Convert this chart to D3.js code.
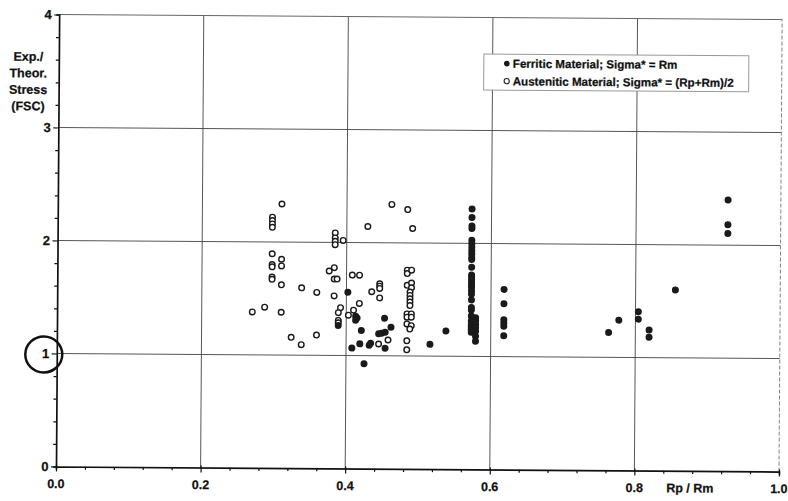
<!DOCTYPE html>
<html>
<head>
<meta charset="utf-8">
<script src="https://cdn.jsdelivr.net/npm/d3@7/dist/d3.min.js"></script>
<style>
  html, body { margin: 0; padding: 0; background: #fff; }
  svg { display: block; }
  text { font-family: "Liberation Sans", Arial, sans-serif; font-weight: bold; fill: #111; stroke: #111; stroke-width: 0.25px; }
</style>
</head>
<body>
<svg id="chart" width="788" height="501"></svg>
<script>
// ---- data ----
const xTicks = [0.0, 0.2, 0.4, 0.6, 0.8, 1.0];
const xTickLabels = ["0.0", "0.2", "0.4", "0.6", "0.8", "1.0"];
const yTicks = [0, 1, 2, 3, 4];
const yTickLabels = ["0", "1", "2", "3", "4"];
const xTitle = "Rp / Rm";
const yTitleLines = ["Exp./", "Theor.", "Stress", "(FSC)"];
const legendLabels = ["Ferritic Material; Sigma* = Rm", "Austenitic Material; Sigma* = (Rp+Rm)/2"];

const ferriticX = [
  0.389, 0.402, 0.408, 0.413, 0.413, 0.415, 0.419, 0.421, 0.425, 0.432, 0.434,
  0.445, 0.449, 0.454, 0.453, 0.462, 0.454, 0.516, 0.538,
  0.573, 0.573, 0.573, 0.573, 0.573, 0.573, 0.573, 0.573, 0.573, 0.573, 0.573,
  0.573, 0.573, 0.573, 0.573, 0.573, 0.573, 0.573, 0.573, 0.573, 0.573, 0.573,
  0.573, 0.573, 0.573, 0.573, 0.573, 0.573, 0.573,
  0.579, 0.579, 0.579, 0.579, 0.579, 0.579, 0.579,
  0.618, 0.618, 0.618, 0.618, 0.618, 0.618,
  0.763, 0.777, 0.804, 0.804, 0.819, 0.819, 0.855, 0.927, 0.927, 0.927
];
const ferriticY = [
  1.265, 1.56, 1.066, 1.348, 1.312, 1.333, 1.104, 1.223, 0.929, 1.093, 1.11,
  1.194, 1.20, 1.209, 1.333, 1.253, 1.066, 1.104, 1.223,
  2.304, 2.229, 2.155, 2.131, 2.027, 1.997, 1.967, 1.938, 1.908, 1.878, 1.857,
  1.789, 1.72, 1.70, 1.679, 1.655, 1.631, 1.611, 1.58, 1.551, 1.50, 1.432,
  1.411, 1.357, 1.313, 1.283, 1.262, 1.238, 1.214,
  1.343, 1.313, 1.283, 1.253, 1.223, 1.179, 1.134,
  1.595, 1.468, 1.327, 1.298, 1.268, 1.185,
  1.22, 1.33, 1.405, 1.34, 1.245, 1.18, 1.60, 2.40, 2.181, 2.104
];

const austeniticX = [
  0.270, 0.287,
  0.297, 0.297, 0.297, 0.297, 0.297, 0.297, 0.297, 0.297, 0.297,
  0.310, 0.310, 0.310, 0.310, 0.310,
  0.324, 0.338, 0.338, 0.359, 0.359,
  0.376, 0.383, 0.383, 0.387, 0.383,
  0.384, 0.384, 0.384, 0.384, 0.395,
  0.408, 0.418, 0.392, 0.389, 0.389, 0.389,
  0.403, 0.410, 0.418, 0.429, 0.435,
  0.446, 0.446, 0.446, 0.446, 0.458, 0.445,
  0.462, 0.484, 0.491,
  0.484, 0.484, 0.484, 0.484, 0.484, 0.484, 0.484, 0.484,
  0.490, 0.490, 0.490, 0.490, 0.490, 0.490,
  0.488, 0.488, 0.488, 0.488, 0.488, 0.488
];
const austeniticY = [
  1.38, 1.423,
  2.22, 2.19, 2.16, 2.13, 1.896, 1.80, 1.78, 1.69, 1.67,
  2.337, 1.848, 1.789, 1.622, 1.379,
  1.158, 1.596, 1.093, 1.557, 1.179,
  1.747, 1.777, 1.676, 1.676, 1.527,
  2.084, 2.04, 2.01, 1.98, 2.018,
  1.712, 1.712, 1.423, 1.379, 1.31, 1.289,
  1.357, 1.402, 1.462, 2.143, 1.566,
  1.637, 1.616, 1.596, 1.512, 1.14, 1.104,
  2.34, 2.295, 2.128,
  1.759, 1.729, 1.625, 1.372, 1.343, 1.283, 1.134, 1.054,
  1.759, 1.646, 1.604, 1.372, 1.343, 1.268,
  1.566, 1.536, 1.506, 1.477, 1.446, 1.238
];

// ---- chart ----
const svg = d3.select("#chart");
svg.append("rect").attr("width", 788).attr("height", 501).attr("fill", "#fff");

const x = d3.scaleLinear().domain([0, 1]).range([56, 779]);
const y = d3.scaleLinear().domain([0, 4]).range([466.5, 14.5]);

// the scanned page is slightly tilted
const g = svg.append("g").attr("transform", "rotate(0.4," + x(0) + "," + y(0) + ")");

// grid
const grid = g.append("g");
grid.selectAll("line.v").data(xTicks.filter(d => d > 0 && d < 1)).join("line")
  .attr("x1", d => x(d)).attr("x2", d => x(d))
  .attr("y1", y(0)).attr("y2", y(4))
  .attr("stroke", "#444").attr("stroke-width", 0.9);
grid.selectAll("line.h").data(yTicks.filter(d => d > 0 && d < 4)).join("line")
  .attr("x1", x(0)).attr("x2", x(1))
  .attr("y1", d => y(d)).attr("y2", d => y(d))
  .attr("stroke", "#444").attr("stroke-width", 0.9);
// top and right frame
g.append("line").attr("x1", x(0)).attr("x2", x(1)).attr("y1", y(4)).attr("y2", y(4))
  .attr("stroke", "#555").attr("stroke-width", 0.9);
g.append("line").attr("x1", x(1)).attr("x2", x(1)).attr("y1", y(0)).attr("y2", y(4))
  .attr("stroke", "#777").attr("stroke-width", 0.9).attr("stroke-dasharray", "4,2");

// axes
const xAxis = d3.axisBottom(x).tickValues(d3.range(0, 1.0001, 0.04)).tickSize(3).tickFormat("");
const xa = g.append("g").attr("transform", "translate(0," + y(0) + ")").call(xAxis);
const yAxis = d3.axisLeft(y).tickValues(d3.range(0, 4.0001, 0.2)).tickSize(3).tickFormat("");
const ya = g.append("g").attr("transform", "translate(" + x(0) + ",0)").call(yAxis);
[xa, ya].forEach(a => {
  a.select(".domain").attr("stroke", "#111").attr("stroke-width", 1.7);
  a.selectAll(".tick line").attr("stroke", "#111").attr("stroke-width", 1.2);
});
// major ticks longer
xa.selectAll(".tick line").filter(d => Math.abs(d * 5 - Math.round(d * 5)) < 1e-6).attr("y2", 5).attr("y1", -2);
ya.selectAll(".tick line").filter(d => Math.abs(d - Math.round(d)) < 1e-6).attr("x2", -5);

// tick labels
g.selectAll("text.xl").data(xTicks).join("text")
  .attr("x", d => x(d)).attr("y", 488)
  .attr("text-anchor", "middle").attr("font-size", 12.5)
  .text((d, i) => xTickLabels[i]);
g.selectAll("text.yl").data(yTicks).join("text")
  .attr("x", 48.5).attr("y", d => y(d) + 4.5)
  .attr("text-anchor", "end").attr("font-size", 13)
  .text((d, i) => yTickLabels[i]);

// titles
g.append("text").attr("x", 690).attr("y", 488).attr("text-anchor", "middle")
  .attr("font-size", 12.5).text(xTitle);
g.selectAll("text.yt").data(yTitleLines).join("text")
  .attr("x", 25.5).attr("y", (d, i) => 61 + i * 16.5)
  .attr("text-anchor", "middle").attr("font-size", 12.5)
  .text(d => d);

// circled "1"
g.append("ellipse").attr("cx", 43).attr("cy", y(1) + 1).attr("rx", 18.5).attr("ry", 18)
  .attr("fill", "none").attr("stroke", "#111").attr("stroke-width", 2.5);

// data
g.selectAll("circle.aus").data(austeniticX.map((d, i) => [d, austeniticY[i]])).join("circle")
  .attr("cx", d => x(d[0])).attr("cy", d => y(d[1])).attr("r", 2.8)
  .attr("fill", "#fff").attr("stroke", "#1a1a1a").attr("stroke-width", 1.4);
g.selectAll("circle.fer").data(ferriticX.map((d, i) => [d, ferriticY[i]])).join("circle")
  .attr("cx", d => x(d[0])).attr("cy", d => y(d[1])).attr("r", 3.5)
  .attr("fill", "#1a1a1a");

// legend
const lg = g.append("g").attr("transform", "translate(481,51)");
lg.append("rect").attr("width", 265).attr("height", 36)
  .attr("fill", "#fff").attr("stroke", "#999").attr("stroke-width", 1);
lg.append("circle").attr("cx", 23).attr("cy", 9.5).attr("r", 2.8).attr("fill", "#1a1a1a");
lg.append("circle").attr("cx", 23).attr("cy", 27).attr("r", 2.6)
  .attr("fill", "#fff").attr("stroke", "#222").attr("stroke-width", 1.1);
lg.selectAll("text").data(legendLabels).join("text")
  .attr("x", 29).attr("y", (d, i) => 13.5 + i * 17.7)
  .attr("font-size", 11.6).text(d => d);
</script>
</body>
</html>
